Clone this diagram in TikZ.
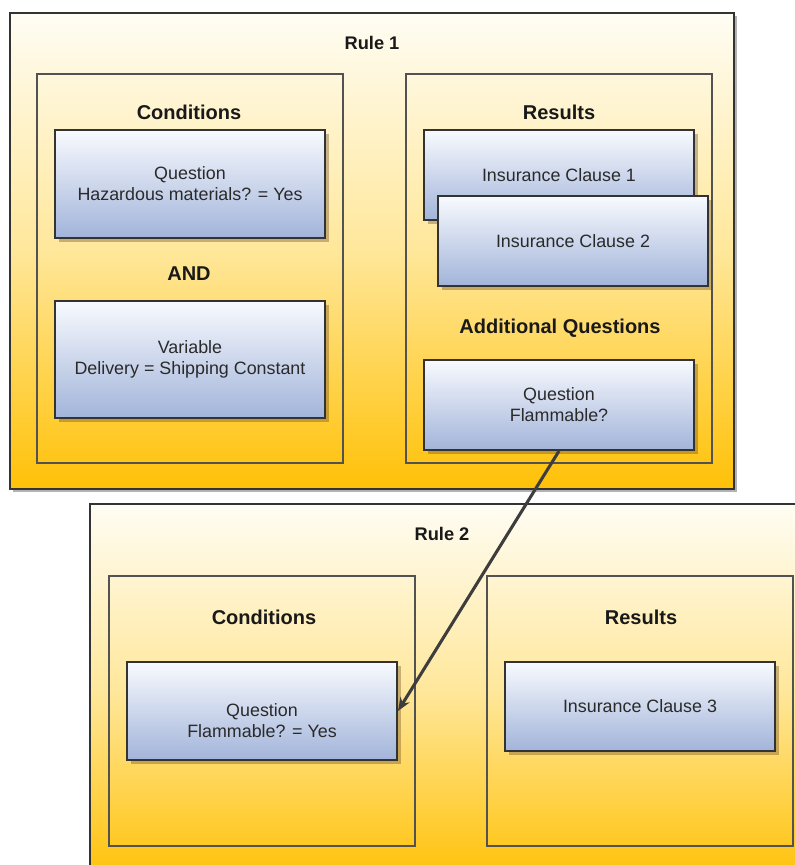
\documentclass[tikz,border=0pt]{standalone}
\usepackage{fontspec}
\setmainfont{Liberation Sans}
\usetikzlibrary{fit,shadows,arrows.meta}
\definecolor{boxtop}{HTML}{FFFDF4}
\definecolor{boxmid}{HTML}{FFE79A}
\definecolor{boxbot}{HTML}{FFC107}
\definecolor{bluetop}{HTML}{F8FAFE}
\definecolor{bluebot}{HTML}{A2B4DA}
\definecolor{edge}{HTML}{333333}
\definecolor{inkc}{HTML}{2A2A2A}
\begin{document}
\begin{tikzpicture}[x=0.75pt,y=-0.75pt,
  rule/.style={draw=edge, line width=1.5pt, top color=boxtop, bottom color=boxbot, middle color=boxmid, inner sep=0pt,
    drop shadow={shadow xshift=2.5pt, shadow yshift=-2.5pt, fill=black, opacity=0.3}},
  panel/.style={draw=edge!85, line width=1pt, inner sep=0pt},
  card/.style={draw=edge, line width=1.5pt, top color=bluetop, bottom color=bluebot, inner sep=0pt, align=center,
    minimum width=202.5pt, font=\fontsize{13.4}{15.75}\selectfont, text=inkc,
    drop shadow={shadow xshift=3pt, shadow yshift=-3pt, fill=black!50!brown, opacity=0.35}},
  head/.style={font=\fontsize{15}{18}\selectfont\bfseries, text=black!90, inner sep=0pt},
  ruletitle/.style={font=\fontsize{13.7}{16}\selectfont\bfseries, text=black!90, inner sep=0pt},
  link/.style={draw=edge!95, line width=2.3pt, -{Stealth[length=10pt,width=8pt]}}]
\clip (0,0) rectangle (795,865);
% Rule 1
\node[rule, fit={(10,13) (734,489)}] (rule1) {};
\node[ruletitle] (r1t) at (372,43) {Rule 1};
\node[panel, fit={(37,74) (343,463)}] (cond1) {};
\node[head] (cond1t) at (189,112) {Conditions};
\node[card, minimum height=81pt] (q1) at (190,184) {Question\\Hazardous materials? = Yes};
\node[head] (andt) at (189,274) {AND};
\node[card, minimum height=87.75pt] (v1) at (190,359.5) {Variable\\Delivery = Shipping Constant};
\node[panel, fit={(406,74) (712,463)}] (res1) {};
\node[head] (res1t) at (559,112) {Results};
\node[card, minimum height=67.5pt] (ic1) at (559,175) {Insurance Clause 1};
\node[card, minimum height=67.5pt] (ic2) at (573,241) {Insurance Clause 2};
\node[head] (addt) at (560,328.5) {Additional Questions};
\node[card, minimum height=67.5pt] (qf) at (559,405) {Question\\Flammable?};
% Rule 2
\node[rule, fit={(90,504) (805,880)}] (rule2) {};
\node[ruletitle] (r2t) at (442,534) {Rule 2};
\node[panel, fit={(109,576) (415,846)}] (cond2) {};
\node[head] (cond2t) at (264,617) {Conditions};
\node[card, minimum height=73.5pt] (qfy) at (262,711) {\rule{0pt}{24.5pt}Question\\Flammable? = Yes};
\node[panel, fit={(487,576) (793,846)}] (res2) {};
\node[head] (res2t) at (641,617) {Results};
\node[card, minimum height=66.75pt] (ic3) at (640,706.5) {Insurance Clause 3};
% connector
\draw[link] (qf.south) -- (qfy.east);
\end{tikzpicture}
\end{document}
